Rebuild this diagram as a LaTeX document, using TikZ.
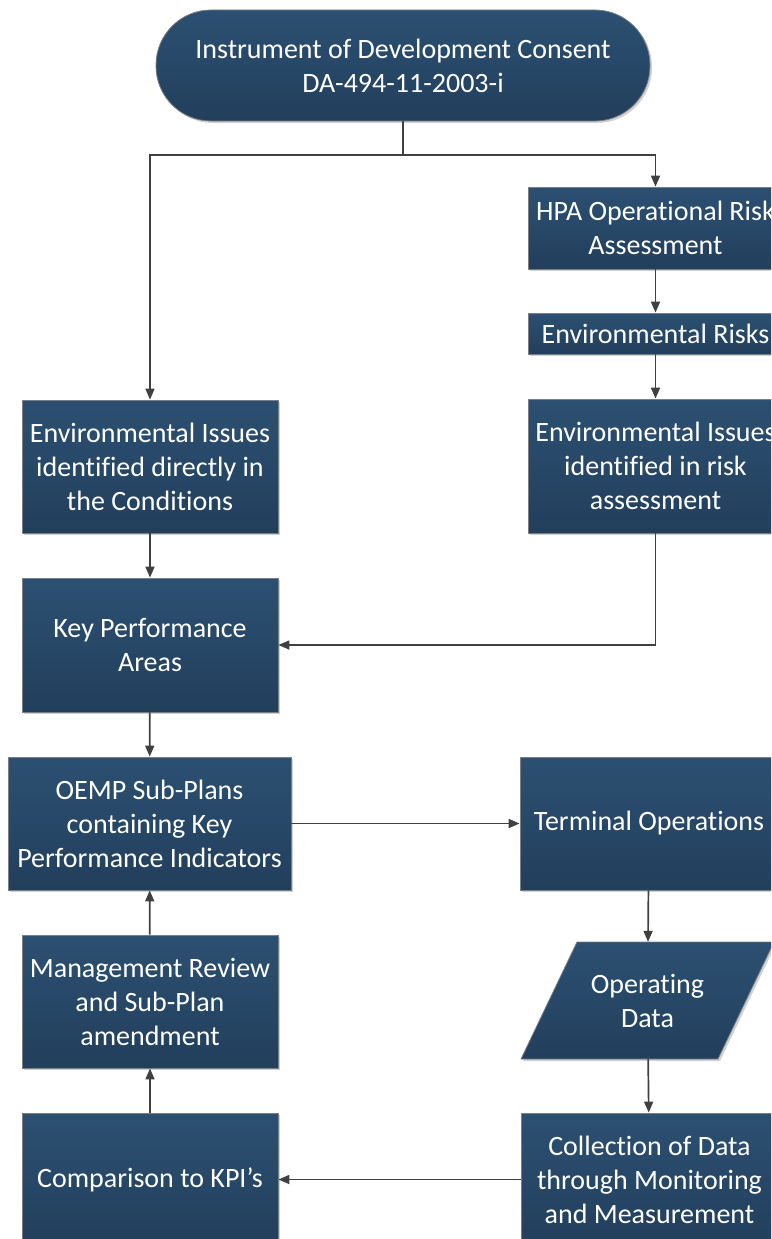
\documentclass[tikz,border=0pt]{standalone}
\usepackage{fontspec}
\setmainfont{Carlito}[Ligatures=CommonOff]
\usetikzlibrary{arrows.meta,shadows}

\definecolor{boxtop}{HTML}{2C5072}
\definecolor{boxbot}{HTML}{223F5C}
\definecolor{boxedge}{HTML}{7A7F86}
\definecolor{wire}{HTML}{404040}

\tikzset{
  procbox/.style={rectangle, inner sep=0pt, align=center, text=white,
    top color=boxtop, bottom color=boxbot, draw=boxedge, line width=0.8pt,
    font=\fontsize{28}{34}\selectfont,
    drop shadow={shadow xshift=2pt, shadow yshift=-2pt, fill=black, opacity=0.18}},
  termbox/.style={procbox, rounded corners=55pt},
  datalabel/.style={rectangle, inner sep=0pt, align=center, text=white,
    font=\fontsize{28}{34}\selectfont},
  flow/.style={draw=wire, line width=1.7pt, -{Triangle[length=11pt,width=9pt]}},
  flowline/.style={draw=wire, line width=1.7pt}
}

\begin{document}
\begin{tikzpicture}[x=1pt, y=-1pt]
  \useasboundingbox (0,0) rectangle (771,1239);
  \clip (0,0) rectangle (771,1239);

  % start terminal
  \node[termbox, minimum width=494pt, minimum height=111pt] (consent) at (403,65.5)
    {Instrument of Development Consent\\DA-494-11-2003-i};

  % right branch: risk assessment
  \node[procbox, minimum width=255pt, minimum height=82pt] (hpa) at (655.5,228)
    {HPA Operational Risk\\Assessment};
  \node[procbox, minimum width=255pt, minimum height=41pt] (risks) at (655.5,333.5)
    {Environmental Risks};
  \node[procbox, minimum width=255pt, minimum height=134pt] (issrisk) at (655.5,466)
    {Environmental Issues\\identified in risk\\assessment};

  % left column
  \node[procbox, minimum width=256pt, minimum height=133pt] (isscond) at (150,466.5)
    {Environmental Issues\\identified directly in\\the Conditions};
  \node[procbox, minimum width=256pt, minimum height=134pt] (kpa) at (150,645)
    {Key Performance\\Areas};
  \node[procbox, minimum width=283pt, minimum height=133pt] (oemp) at (149.5,823.5)
    {OEMP Sub-Plans\\containing Key\\Performance Indicators};
  \node[procbox, minimum width=256pt, minimum height=133pt] (review) at (150,1001.5)
    {Management Review\\and Sub-Plan\\amendment};
  \node[procbox, minimum width=256pt, minimum height=133pt] (compare) at (150,1179.5)
    {Comparison to KPI’s};

  % operations column
  \node[procbox, minimum width=258pt, minimum height=133pt] (ops) at (649,823.5)
    {Terminal Operations};
  \fill[black, opacity=0.18] (523,1061) -- (720,1061) -- (776,944) -- (579,944) -- cycle;
  \shade[top color=boxtop, bottom color=boxbot, draw=boxedge, line width=0.8pt]
    (521,1059) -- (718,1059) -- (774,942) -- (577,942) -- cycle;
  \node[datalabel, minimum width=141pt, minimum height=117pt] (opdata) at (647.5,1000.5)
    {Operating\\Data};
  \node[procbox, minimum width=257pt, minimum height=133pt] (collect) at (649.5,1179.5)
    {Collection of Data\\through Monitoring\\and Measurement};

  % connectors
  \coordinate (split) at (403,155);
  \draw[flowline] (consent.south) -- (split);
  \draw[flow] (split) -| (isscond.north);
  \draw[flow] (split) -| (hpa.north);
  \draw[flow] (hpa) -- (risks);
  \draw[flow] (risks) -- (issrisk);
  \draw[flow] (issrisk.south) |- (kpa.east);
  \draw[flow] (isscond) -- (kpa);
  \draw[flow] (kpa) -- (oemp);
  \draw[flow] (oemp) -- (ops);
  \draw[flow] (ops) -- (opdata);
  \draw[flow] (opdata) -- (collect);
  \draw[flow] (collect) -- (compare);
  \draw[flow] (compare) -- (review);
  \draw[flow] (review) -- (oemp);
\end{tikzpicture}
\end{document}
